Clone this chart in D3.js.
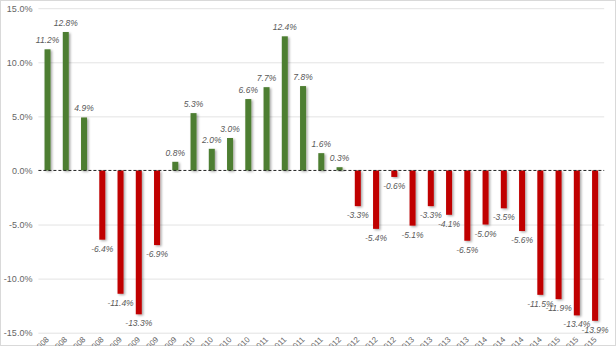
<!DOCTYPE html>
<html><head><meta charset="utf-8">
<script src="https://cdn.jsdelivr.net/npm/d3@7"></script>
<style>
html,body{margin:0;padding:0;background:#fff;}
svg{display:block;}
</style></head>
<body>
<svg id="c" width="616" height="346"></svg>
<script>
const categories = ["Q1 2008","Q2 2008","Q3 2008","Q4 2008","Q1 2009","Q2 2009","Q3 2009","Q4 2009",
  "Q1 2010","Q2 2010","Q3 2010","Q4 2010","Q1 2011","Q2 2011","Q3 2011","Q4 2011",
  "Q1 2012","Q2 2012","Q3 2012","Q4 2012","Q1 2013","Q2 2013","Q3 2013","Q4 2013",
  "Q1 2014","Q2 2014","Q3 2014","Q4 2014","Q1 2015","Q2 2015","Q3 2015"];
const values = [11.2,12.8,4.9,-6.4,-11.4,-13.3,-6.9,0.8,5.3,2.0,3.0,6.6,7.7,12.4,7.8,1.6,0.3,
  -3.3,-5.4,-0.6,-5.1,-3.3,-4.1,-6.5,-5.0,-3.5,-5.6,-11.5,-11.9,-13.4,-13.9];
const yTicks = [-15,-10,-5,0,5,10,15];

const pct = d => d3.format(".1f")(d).replace("\u2212","-") + "%";

const svg = d3.select("#c");
const defs = svg.append("defs");
const f = defs.append("filter").attr("id","sh").attr("x","-50%").attr("y","-10%").attr("width","250%").attr("height","130%");
f.append("feDropShadow").attr("dx",1.5).attr("dy",1.2).attr("stdDeviation",0.9).attr("flood-color","#000").attr("flood-opacity",0.35);

svg.append("rect").attr("x",0.5).attr("y",0.5).attr("width",615).attr("height",345)
  .attr("fill","#fff").attr("stroke","#d9d9d9");

const x = d3.scaleBand().domain(categories).range([38.4, 604.2]).padding(0);
const y = d3.scaleLinear().domain([-15,15]).range([332.7, 8.2]);
const bw = 6;

// gridlines
const yAxis = d3.axisLeft(y).tickValues(yTicks).tickFormat(pct)
  .tickSize(-(604.2-38.4)).tickPadding(6);
const gy = svg.append("g").attr("transform","translate(38.4,0)").call(yAxis);
gy.select(".domain").remove();
gy.selectAll(".tick line").attr("stroke", d => d === 0 ? "none" : "#e3e3e3");
gy.selectAll(".tick text").attr("fill","#666").attr("font-family","Liberation Sans, Arial, sans-serif")
  .attr("font-size","9px");

// bars
svg.append("g").selectAll("rect").data(values).join("rect")
  .attr("x",(d,i)=>x(categories[i]) + x.bandwidth()/2 - bw/2)
  .attr("y",d=>y(Math.max(0,d)))
  .attr("width",bw)
  .attr("height",d=>Math.abs(y(d)-y(0)))
  .attr("fill",d=>d>=0 ? "#4e7e31" : "#c00000")
  .attr("filter","url(#sh)");

// zero line
svg.append("line").attr("x1",38.4).attr("x2",604.2).attr("y1",y(0)).attr("y2",y(0))
  .attr("stroke","#222").attr("stroke-width",1).attr("stroke-dasharray","3,2");

// value labels
svg.append("g").selectAll("text").data(values).join("text")
  .attr("x",(d,i)=>x(categories[i]) + x.bandwidth()/2)
  .attr("y",d=> d>=0 ? y(d)-6 : y(d)+12)
  .attr("text-anchor","middle")
  .attr("font-family","Liberation Sans, Arial, sans-serif")
  .attr("font-style","italic")
  .attr("font-size","8.5px")
  .attr("fill","#595959")
  .text(pct);

// x axis labels
const xAxis = d3.axisBottom(x).tickSize(0).tickPadding(0);
const gx = svg.append("g").attr("transform","translate(0,338)").call(xAxis);
gx.select(".domain").remove();
gx.selectAll(".tick text")
  .attr("fill","#666").attr("font-family","Liberation Sans, Arial, sans-serif").attr("font-size","8px")
  .attr("text-anchor","end").attr("dy","0.35em")
  .attr("transform","rotate(-45)");
</script>
</body></html>
